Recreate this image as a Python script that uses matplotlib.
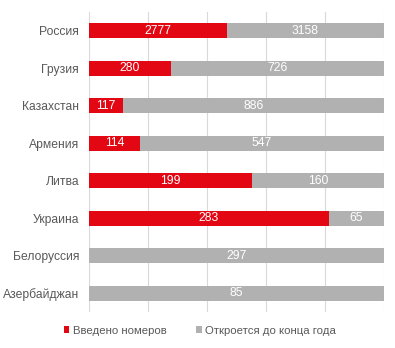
import numpy as np
import matplotlib.pyplot as plt

plt.rcParams['font.family'] = ['Liberation Sans', 'DejaVu Sans']

countries = ["Россия", "Грузия", "Казахстан", "Армения", "Литва", "Украина", "Белоруссия", "Азербайджан"]
opened = [2777, 280, 117, 114, 199, 283, 0, 0]
upcoming = [3158, 726, 886, 547, 160, 65, 297, 85]

red = "#E30613"
grey = "#B1B1B1"
text_col = "#595959"

opened = np.array(opened, dtype=float)
upcoming = np.array(upcoming, dtype=float)
total = opened + upcoming
p_open = opened / total
p_up = upcoming / total

fig = plt.figure(figsize=(3.95, 3.48), dpi=100)
ax = fig.add_axes([0.225, 0.103, 0.747, 0.863])

y = np.arange(len(countries))
ax.barh(y, p_open, height=0.4, color=red, label="Введено номеров")
ax.barh(y, p_up, left=p_open, height=0.4, color=grey, label="Откроется до конца года")

fs = 8.7
for i in range(len(countries)):
    if opened[i] > 0:
        ax.text(p_open[i] / 2, y[i], f"{int(opened[i])}", ha='center', va='center',
                color='white', fontsize=fs)
    if upcoming[i] > 0:
        ax.text(p_open[i] + p_up[i] / 2, y[i], f"{int(upcoming[i])}", ha='center', va='center',
                color='white', fontsize=fs)

ax.set_xlim(0, 1)
ax.set_ylim(len(countries) - 0.5, -0.5)
ax.set_xticks(np.linspace(0, 1, 6))
ax.set_xticklabels([])
ax.tick_params(axis='x', length=0)
ax.tick_params(axis='y', length=0, labelsize=fs, labelcolor=text_col, pad=7)
ax.set_yticks(y)
ax.set_yticklabels(countries)
ax.grid(axis='x', color='#D9D9D9', linewidth=0.8)
ax.set_axisbelow(True)
for s in ax.spines.values():
    s.set_visible(False)

leg = fig.legend(loc='center', bbox_to_anchor=(0.506, 0.05), ncol=2, frameon=False,
                 fontsize=8.2, handlelength=0.5, handleheight=0.5, handletextpad=0.3,
                 columnspacing=2.6)
for t in leg.get_texts():
    t.set_color(text_col)

fig.savefig("out.png", dpi=100)
